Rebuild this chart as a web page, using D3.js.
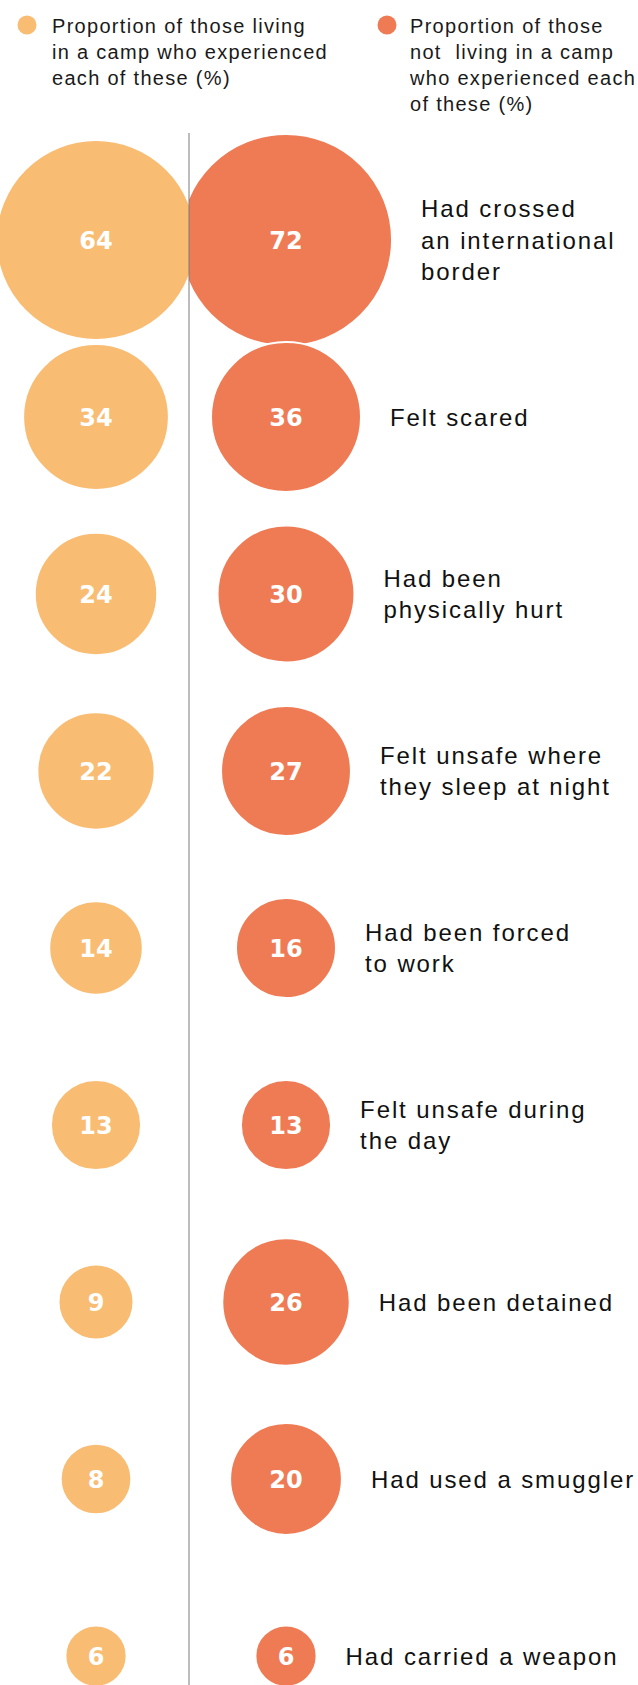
<!DOCTYPE html>
<html>
<head>
<meta charset="utf-8">
<script src="https://d3js.org/d3.v7.min.js"></script>
<style>
  body { margin: 0; background: #fff; }
  svg text { font-family: "Liberation Sans", Arial, sans-serif; }
  .legend text { font-size: 20px; fill: #1a1a1a; letter-spacing: 1.3px; white-space: pre; }
  .label text { font-size: 24px; fill: #111; letter-spacing: 1.9px; }
  .num { font-family: "DejaVu Sans", sans-serif !important; font-weight: bold; font-size: 24px; fill: #fff; text-anchor: middle; }
</style>
</head>
<body>
<svg id="chart"></svg>
<script>
  // values
  var items = [
    ["Had crossed", "an international", "border"],
    ["Felt scared"],
    ["Had been", "physically hurt"],
    ["Felt unsafe where", "they sleep at night"],
    ["Had been forced", "to work"],
    ["Felt unsafe during", "the day"],
    ["Had been detained"],
    ["Had used a smuggler"],
    ["Had carried a weapon"]
  ];
  var camp = [64, 34, 24, 22, 14, 13, 9, 8, 6];
  var notCamp = [72, 36, 30, 27, 16, 13, 26, 20, 6];
  var groups = ["camp", "notCamp"];
  var colors = ["#f9bc73", "#ef7b55"];
  var legendText = [
    ["Proportion of those living", "in a camp who experienced", "each of these (%)"],
    ["Proportion of those", "not  living in a camp", "who experienced each", "of these (%)"]
  ];

  var width = 638;
  var height = 1685;
  var midX = 189;

  var svg = d3.select("#chart").attr("width", width).attr("height", height);

  var y = d3.scalePoint()
    .domain(d3.range(items.length))
    .range([240, 1656]);
  var x = d3.scalePoint().domain(groups).range([96, 286]);
  var r = d3.scaleSqrt().domain([0, 100]).range([0, 125]);
  var color = d3.scaleOrdinal().domain(groups).range(colors);

  // legend
  var legend = svg.append("g").attr("class", "legend");
  var legX = [[27, 52], [387, 410]];
  groups.forEach(function (g, i) {
    var lg = legend.append("g");
    lg.append("circle")
      .attr("cx", legX[i][0])
      .attr("cy", 25)
      .attr("r", 9.5)
      .attr("fill", color(g));
    lg.selectAll("text")
      .data(legendText[i])
      .enter()
      .append("text")
      .attr("x", legX[i][1])
      .attr("y", function (d, j) { return 33 + j * 26; })
      .text(function (d) { return d; });
  });

  // clip each side at the centre line
  var defs = svg.append("defs");
  defs.append("clipPath").attr("id", "clip-camp")
    .append("rect").attr("x", -10).attr("y", 0).attr("width", midX + 10).attr("height", height);
  defs.append("clipPath").attr("id", "clip-notCamp")
    .append("rect").attr("x", midX).attr("y", 0).attr("width", width - midX).attr("height", height);

  var series = { camp: camp, notCamp: notCamp };

  groups.forEach(function (g) {
    var side = svg.append("g").attr("clip-path", "url(#clip-" + g + ")");
    var node = side.selectAll("g")
      .data(series[g])
      .enter()
      .append("g")
      .attr("transform", function (d, i) { return "translate(" + x(g) + "," + y(i) + ")"; });
    node.append("circle")
      .attr("r", function (d) { return r(d); })
      .attr("fill", color(g))
      .attr("stroke", "#fff")
      .attr("stroke-width", 2);
    node.append("text")
      .attr("class", "num")
      .attr("y", 9)
      .text(function (d) { return d; });
  });

  // centre line
  svg.append("line")
    .attr("x1", midX).attr("x2", midX)
    .attr("y1", 133).attr("y2", height)
    .attr("stroke", "#7a7a7a")
    .attr("stroke-width", 1);

  // row labels
  var labels = svg.append("g").attr("class", "label")
    .selectAll("g")
    .data(items)
    .enter()
    .append("g")
    .attr("transform", function (d, i) {
      return "translate(" + (x("notCamp") + r(notCamp[i]) + 29) + "," + y(i) + ")";
    });
  labels.selectAll("text")
    .data(function (d) { return d; })
    .enter()
    .append("text")
    .attr("y", function (d, j, nodes) {
      return (j - (nodes.length - 1) / 2) * 31.5 + 8.5;
    })
    .text(function (d) { return d; });
</script>
</body>
</html>
